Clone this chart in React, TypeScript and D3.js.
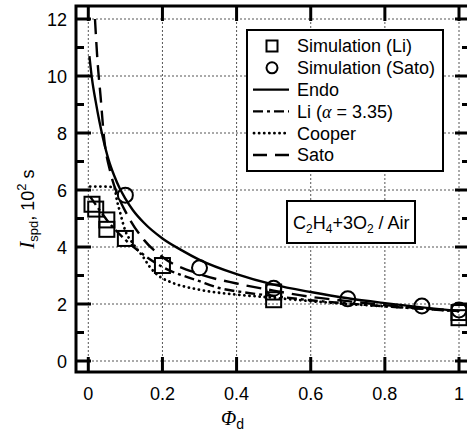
import React from "react";
import * as d3 from "d3";

const endoX = [0.003, 0.01, 0.02, 0.03, 0.04, 0.055, 0.07, 0.085, 0.1, 0.12, 0.15, 0.2, 0.25, 0.3, 0.4, 0.5, 0.6, 0.7, 0.8, 0.9, 1.0];
const endoY = [10.7, 9.9, 9.1, 8.4, 7.8, 7.05, 6.5, 6.05, 5.7, 5.3, 4.85, 4.3, 3.9, 3.55, 3.05, 2.68, 2.42, 2.2, 2.03, 1.88, 1.75];

const satoX = [0.018, 0.025, 0.033, 0.042, 0.06, 0.08, 0.1, 0.15, 0.2, 0.3, 0.4, 0.5, 0.6, 0.7, 0.8, 0.9, 1.0];
const satoY = [12.0, 10.5, 9.3, 7.9, 6.6, 5.8, 5.25, 4.25, 3.65, 3.05, 2.72, 2.47, 2.25, 2.1, 1.96, 1.85, 1.75];

const liX = [0.005, 0.03, 0.05, 0.1, 0.15, 0.2, 0.3, 0.35, 0.42, 0.5, 0.6, 0.7, 0.8, 0.9, 1.0];
const liY = [5.77, 5.3, 4.95, 4.25, 3.72, 3.3, 2.8, 2.57, 2.41, 2.28, 2.13, 2.02, 1.92, 1.83, 1.75];

const cooperX = [0.005, 0.04, 0.07, 0.077, 0.086, 0.099, 0.12, 0.148, 0.166, 0.194, 0.22, 0.3, 0.4, 0.5, 0.6, 0.7, 0.8, 0.9, 1.0];
const cooperY = [6.12, 6.12, 6.1, 5.65, 5.2, 4.6, 4.13, 3.65, 3.3, 2.95, 2.78, 2.5, 2.33, 2.22, 2.1, 2.0, 1.92, 1.84, 1.75];

const simLiX = [0.01, 0.02, 0.05, 0.05, 0.1, 0.2, 0.5, 0.5, 1.0, 1.0];
const simLiY = [5.5, 5.33, 4.95, 4.62, 4.3, 3.35, 2.42, 2.15, 1.7, 1.52];

const simSatoX = [0.1, 0.3, 0.5, 0.7, 0.9, 1.0];
const simSatoY = [5.82, 3.27, 2.55, 2.18, 1.93, 1.79];

const xTicks = [0, 0.2, 0.4, 0.6, 0.8, 1];
const xTickLabels = ["0", "0.2", "0.4", "0.6", "0.8", "1"];
const yTicks = [0, 2, 4, 6, 8, 10, 12];
const yMinor = [1, 3, 5, 7, 9, 11];

const legendLabels = ["Simulation (Li)", "Simulation (Sato)", "Endo", "Li", "Cooper", "Sato"];

const W = 467;
const H = 433;
const left = 76, right = 470, top = 6, bottom = 372;

export default function App() {
  const x = d3.scaleLinear().domain([0, 1]).range([88.3, 459]);
  const y = d3.scaleLinear().domain([0, 12]).range([361, 19]);
  const line = (xs: number[], ys: number[]) =>
    d3.line<number>().x((_, i) => x(xs[i])).y((_, i) => y(ys[i])).curve(d3.curveMonotoneX)(xs.map((_, i) => i)) || "";

  const sans = "Liberation Sans, Arial, sans-serif";
  const lw = 2.4;

  const legX0 = 253, legX1 = 289, legText = 297, legY0 = 46, legDy = 21.8;

  return (
    <svg width={W} height={H} style={{ position: "absolute", left: 0, top: 0, background: "#fff" }} fontFamily={sans}>
      <defs>
        <clipPath id="plot">
          <rect x={left} y={top} width={right - left} height={bottom - top} />
        </clipPath>
      </defs>
      <rect x={0} y={0} width={W} height={H} fill="#fff" />
      {/* grid */}
      <g stroke="#555" strokeWidth={1} strokeDasharray="2 2">
        {xTicks.map((t) => (
          <line key={"gx" + t} x1={x(t)} x2={x(t)} y1={top} y2={bottom} />
        ))}
        {yTicks.map((t) => (
          <line key={"gy" + t} x1={left} x2={right} y1={y(t)} y2={y(t)} />
        ))}
      </g>
      {/* curves */}
      <g clipPath="url(#plot)" fill="none" stroke="#000" strokeWidth={lw}>
        <path d={line(endoX, endoY)} />
        <path d={line(liX, liY)} strokeDasharray="10 4 3 4" />
        <path d={line(cooperX, cooperY)} strokeDasharray="0.1 5" strokeLinecap="round" strokeWidth={2.8} />
        <path d={line(satoX, satoY)} strokeDasharray="15 8" />
      </g>
      {/* markers */}
      <g clipPath="url(#plot)" fill="none" stroke="#000" strokeWidth={2}>
        {simLiX.map((v, i) => (
          <rect key={"s" + i} x={x(v) - 7.5} y={y(simLiY[i]) - 7.5} width={15} height={15} />
        ))}
        {simSatoX.map((v, i) => (
          <circle key={"c" + i} cx={x(v)} cy={y(simSatoY[i])} r={7.5} />
        ))}
      </g>
      {/* ticks */}
      <g stroke="#000" strokeWidth={3}>
        {yTicks.map((t) => (
          <g key={"ty" + t}>
            <line x1={left} x2={left + 15} y1={y(t)} y2={y(t)} />
            <line x1={right} x2={right - 15} y1={y(t)} y2={y(t)} />
          </g>
        ))}
        {yMinor.map((t) => (
          <g key={"tm" + t}>
            <line x1={left} x2={left + 8} y1={y(t)} y2={y(t)} />
            <line x1={right} x2={right - 8} y1={y(t)} y2={y(t)} />
          </g>
        ))}
        {xTicks.map((t) => (
          <g key={"tx" + t}>
            <line x1={x(t)} x2={x(t)} y1={bottom} y2={bottom - 15} />
            <line x1={x(t)} x2={x(t)} y1={top} y2={top + 15} />
          </g>
        ))}
      </g>
      {/* frame */}
      <rect x={left} y={top} width={right - left} height={bottom - top} fill="none" stroke="#000" strokeWidth={3} />
      {/* tick labels */}
      <g fontSize={18} fill="#000">
        {yTicks.map((t) => (
          <text key={"ly" + t} x={67} y={y(t) + 6.5} textAnchor="end">{t}</text>
        ))}
        {xTicks.map((t, i) => (
          <text key={"lx" + t} x={x(t)} y={400} textAnchor="middle">{xTickLabels[i]}</text>
        ))}
      </g>
      {/* axis titles */}
      <text x={221} y={425} fontSize={20} fontFamily="Liberation Serif, serif" fontStyle="italic">
        Φ<tspan fontFamily={sans} fontStyle="normal" fontSize={14} dy={4}>d</tspan>
      </text>
      <text transform={`translate(34,209) rotate(-90)`} textAnchor="middle" fontSize={18}>
        <tspan fontFamily="Liberation Serif, serif" fontStyle="italic" fontSize={21}>I</tspan>
        <tspan fontSize={13} dy={4}>spd</tspan>
        <tspan dy={-4}>, 10</tspan>
        <tspan fontSize={13} dy={-8}>2</tspan>
        <tspan dy={8}> s</tspan>
      </text>
      {/* legend */}
      <rect x={247} y={30} width={196} height={141} fill="#fff" stroke="#000" strokeWidth={2} />
      <g fontSize={18} fill="#000">
        {legendLabels.map((l, i) => {
          const cy = legY0 + i * legDy;
          let sym: React.ReactNode = null;
          if (i === 0) sym = <rect x={272 - 5.5} y={cy - 5.5} width={11} height={11} fill="none" stroke="#000" strokeWidth={2} />;
          else if (i === 1) sym = <circle cx={272} cy={cy} r={5.5} fill="none" stroke="#000" strokeWidth={2} />;
          else if (i === 2) sym = <line x1={legX0} x2={legX1} y1={cy} y2={cy} stroke="#000" strokeWidth={lw} />;
          else if (i === 3) sym = <line x1={legX0} x2={legX1} y1={cy} y2={cy} stroke="#000" strokeWidth={lw} strokeDasharray="10 4 3 4" />;
          else if (i === 4) sym = <line x1={legX0 + 1} x2={legX1} y1={cy} y2={cy} stroke="#000" strokeWidth={2.8} strokeDasharray="0.1 5" strokeLinecap="round" />;
          else sym = <line x1={legX0} x2={legX1} y1={cy} y2={cy} stroke="#000" strokeWidth={lw} strokeDasharray="14 8" />;
          return (
            <g key={l}>
              {sym}
              <text x={legText} y={cy + 6.4}>
                {i === 3 ? (
                  <>
                    Li (<tspan fontFamily="Liberation Serif, serif" fontStyle="italic">α</tspan> = 3.35)
                  </>
                ) : (
                  l
                )}
              </text>
            </g>
          );
        })}
      </g>
      {/* mixture label */}
      <rect x={287} y={201} width={128} height={42} fill="#fff" stroke="#000" strokeWidth={2} />
      <text x={293} y={229} fontSize={18} fill="#000">
        C<tspan fontSize={12} dy={4}>2</tspan>
        <tspan dy={-4}>H</tspan>
        <tspan fontSize={12} dy={4}>4</tspan>
        <tspan dy={-4}>+3O</tspan>
        <tspan fontSize={12} dy={4}>2</tspan>
        <tspan dy={-4}> / Air</tspan>
      </text>
    </svg>
  );
}
